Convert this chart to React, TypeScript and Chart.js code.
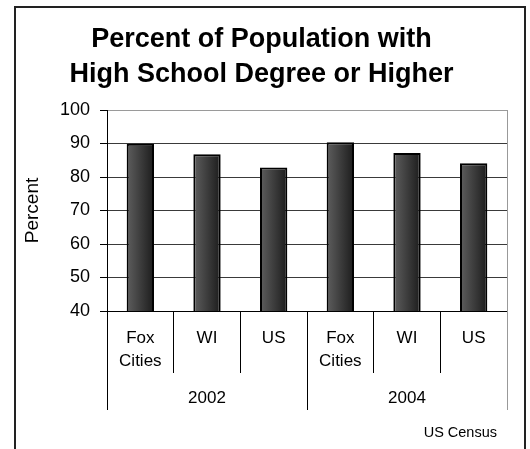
import { useEffect, useRef } from 'react';
import { Chart, registerables } from 'chart.js';

Chart.register(...registerables);

const FONT = '"Liberation Sans", Arial, Helvetica, sans-serif';

const titleLines = ['Percent of Population with', 'High School Degree or Higher'];
const categoryLabels: (string | string[])[] = [['Fox', 'Cities'], 'WI', 'US', ['Fox', 'Cities'], 'WI', 'US'];
const groupLabels = ['2002', '2004'];
const values = [89.9, 86.8, 82.8, 90.4, 87.2, 84.1];
const yMin = 40;
const yMax = 100;
const yStep = 10;
const yAxisTitle = 'Percent';
const sourceNote = 'US Census';
const groupSize = 3;

export default function App() {
  const ref = useRef<HTMLCanvasElement>(null);

  useEffect(() => {
    const canvas = ref.current;
    if (!canvas) return;
    const barFrac = 0.41;
    const align = (p: number) => Math.round(p - 0.5) + 0.5;

    const decor = {
      id: 'decor',
      afterDraw(chart: any) {
        const ctx = chart.ctx;
        const xs = chart.scales.x;
        const x2 = chart.scales.x2;
        const area = chart.chartArea;
        ctx.save();
        ctx.lineWidth = 1;
        ctx.strokeStyle = '#999';
        ctx.beginPath();
        ctx.moveTo(align(area.right), area.top);
        ctx.lineTo(align(area.right), area.bottom);
        ctx.stroke();
        const n = categoryLabels.length;
        for (let i = 0; i <= n; i++) {
          const px = align(xs.getPixelForValue(i - 0.5));
          const isGroup = i % groupSize === 0;
          const bottom = isGroup ? x2.bottom : xs.bottom;
          ctx.strokeStyle = i === n ? '#999' : '#000';
          ctx.beginPath();
          ctx.moveTo(px, area.bottom);
          ctx.lineTo(px, bottom);
          ctx.stroke();
        }
        ctx.fillStyle = '#000';
        ctx.font = `14.5px ${FONT}`;
        ctx.textAlign = 'right';
        ctx.textBaseline = 'middle';
        ctx.fillText(sourceNote, area.right - 10, x2.bottom + 23);
        ctx.restore();
      },
    };

    const chart = new Chart(canvas, {
      type: 'bar',
      data: {
        labels: categoryLabels,
        datasets: [
          {
            data: values,
            xAxisID: 'x',
            yAxisID: 'y',
            borderColor: '#000',
            borderWidth: 2,
            categoryPercentage: 1,
            barPercentage: barFrac,
            backgroundColor: (c: any) => {
              const ch = c.chart;
              const xs = ch && ch.scales && ch.scales.x;
              if (!xs || typeof c.dataIndex !== 'number') return '#333';
              const center = xs.getPixelForValue(c.dataIndex);
              const w = (xs.getPixelForValue(1) - xs.getPixelForValue(0)) * barFrac;
              if (!isFinite(center) || !isFinite(w) || w <= 0) return '#333';
              const g = ch.ctx.createLinearGradient(center - w / 2, 0, center + w / 2, 0);
              g.addColorStop(0, '#5e5e5e');
              g.addColorStop(1, '#1c1c1c');
              return g;
            },
          },
        ],
      },
      options: {
        responsive: false,
        animation: false,
        devicePixelRatio: 1,
        layout: { padding: { top: 0, left: 16, right: 23, bottom: 39 } },
        plugins: {
          legend: { display: false },
          tooltip: { enabled: false },
          title: {
            display: true,
            text: titleLines,
            color: '#000',
            font: { family: FONT, size: 27, weight: 'bold', lineHeight: 35 / 27 },
            padding: { top: 22.5, bottom: 17.5 },
          },
        },
        scales: {
          x: {
            type: 'category',
            position: 'bottom',
            offset: true,
            weight: 0,
            grid: { display: false, drawTicks: false },
            border: { display: true, color: '#000', width: 1 },
            ticks: {
              color: '#000',
              font: { family: FONT, size: 17, lineHeight: 1.35 },
              padding: 15.5,
              autoSkip: false,
              maxRotation: 0,
              minRotation: 0,
            },
            afterFit: (s: any) => {
              s.height = 62;
            },
          },
          x2: {
            type: 'category',
            position: 'bottom',
            labels: groupLabels,
            offset: true,
            weight: 1,
            grid: { display: false, drawTicks: false },
            border: { display: false },
            ticks: {
              color: '#000',
              font: { family: FONT, size: 17, lineHeight: 1.2 },
              padding: 14.8,
              autoSkip: false,
              maxRotation: 0,
              minRotation: 0,
            },
            afterFit: (s: any) => {
              s.height = 37;
            },
          },
          y: {
            type: 'linear',
            position: 'left',
            min: yMin,
            max: yMax,
            grid: {
              color: (c: any) => (c.tick && c.tick.value === yMax ? '#9a9a9a' : c.tick && c.tick.value === yMin ? '#000' : '#3a3a3a'),
              tickColor: '#000',
              tickLength: 7,
              drawTicks: true,
              lineWidth: 1,
            },
            border: { display: true, color: '#000', width: 1 },
            ticks: {
              stepSize: yStep,
              color: '#000',
              font: { family: FONT, size: 18 },
              padding: 10,
            },
            title: {
              display: true,
              text: yAxisTitle,
              color: '#000',
              font: { family: FONT, size: 19, lineHeight: 1.2 },
              padding: { top: 5.6, bottom: 0 },
            },
            afterFit: (s: any) => {
              s.width = 91;
            },
          },
        },
      },
      plugins: [decor],
    } as any);

    return () => chart.destroy();
  }, []);

  return (
    <div style={{ position: 'fixed', left: 0, top: 0, width: 530, height: 449, background: '#fff', overflow: 'hidden' }}>
      <div
        style={{
          position: 'absolute',
          left: 14,
          top: 6,
          width: 508,
          height: 470,
          border: '2px solid #222',
        }}
      />
      <canvas ref={ref} width={530} height={449} style={{ position: 'absolute', left: 0, top: 0 }} />
    </div>
  );
}
